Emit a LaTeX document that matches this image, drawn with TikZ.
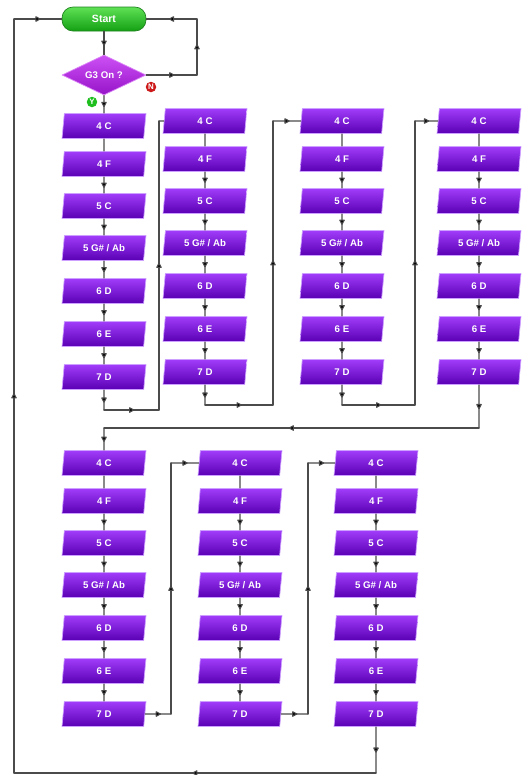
\documentclass[tikz,border=0pt]{standalone}
\usepackage{fontspec}
\setmainfont{Liberation Sans}
\usetikzlibrary{shapes.geometric,decorations.markings}
\definecolor{notetop}{RGB}{160,60,250}
\definecolor{notebot}{RGB}{90,0,180}
\definecolor{noteedge}{RGB}{205,160,255}
\definecolor{starttop}{RGB}{95,225,85}
\definecolor{startbot}{RGB}{20,160,20}
\definecolor{startedge}{RGB}{30,130,30}
\definecolor{asktop}{RGB}{205,80,245}
\definecolor{askbot}{RGB}{150,20,200}
\definecolor{wire}{RGB}{75,75,75}
\definecolor{yesgreen}{RGB}{30,190,30}
\definecolor{nored}{RGB}{205,25,25}
\tikzset{
  notebox/.style={trapezium, trapezium left angle=71, trapezium right angle=109,
    trapezium stretches body, minimum width=1.68cm, minimum height=0.5cm,
    inner sep=0pt, top color=notetop, bottom color=notebot, draw=noteedge,
    line width=0.4pt, text=white, font=\bfseries\fontsize{5.5}{6}\selectfont},
  startbox/.style={rectangle, rounded corners=0.22cm, minimum width=1.68cm,
    minimum height=0.48cm, inner sep=0pt, top color=starttop, bottom color=startbot,
    draw=startedge, line width=0.4pt, text=white, font=\bfseries\fontsize{6}{7}\selectfont},
  askbox/.style={diamond, aspect=2.1, minimum width=1.68cm, minimum height=0.8cm,
    inner sep=0pt, top color=asktop, bottom color=askbot, draw=asktop!70!white,
    line width=0.4pt, text=white, font=\bfseries\fontsize{5.5}{6}\selectfont},
  badge/.style={circle, inner sep=0pt, minimum size=0.21cm, text=white,
    font=\bfseries\fontsize{4.5}{5}\selectfont},
  wire/.style={draw=wire, line width=0.6pt},
  midarrow/.style={postaction={decorate}, decoration={markings,
    mark=at position 0.5 with {\fill[wire] (1.3pt,0) -- (-1.1pt,1.3pt) -- (-1.1pt,-1.3pt) -- cycle;}}}
}
\begin{document}
\begin{tikzpicture}[x=0.02cm, y=-0.02cm, line cap=round, line join=round]
  \useasboundingbox (0,0) rectangle (527,775);
  % start and test
  \node[startbox] (start) at (104,19) {Start};
  \node[askbox] (ask) at (104,75) {G3 On ?};
  \node[badge, fill=yesgreen] (yes) at (92,102) {Y};
  \node[badge, fill=nored] (no) at (151,87) {N};
  % the seven note columns
  \foreach \col/\cx/\cy in {a/104/126, b/205/121, c/342/121, d/479/121,
                            e/104/463, f/240/463, g/376/463}
    \foreach \note/\dy [count=\i] in {4 C/0, 4 F/38, 5 C/80, {5 G\# / Ab}/122,
                                      6 D/165, 6 E/208, 7 D/251}
      \node[notebox] (\col\i) at (\cx,\cy+\dy) {\note};
  \foreach \col in {a,b,c,d,e,f,g} {
    \draw[wire] (\col1) -- (\col2);
    \foreach \i [evaluate=\i as \j using int(\i+1)] in {2,...,6}
      \draw[wire, midarrow] (\col\i) -- (\col\j);
  }
  % corner points of the connectors
  \coordinate (nr) at (197,75);   \coordinate (nt) at (197,19);
  \coordinate (ab1) at (104,410); \coordinate (ab2) at (159,410); \coordinate (ab3) at (159,121);
  \coordinate (bc1) at (205,405); \coordinate (bc2) at (273,405); \coordinate (bc3) at (273,121);
  \coordinate (cd1) at (342,405); \coordinate (cd2) at (415,405); \coordinate (cd3) at (415,121);
  \coordinate (de1) at (479,428); \coordinate (de2) at (104,428);
  \coordinate (ef1) at (171,714); \coordinate (ef2) at (171,463);
  \coordinate (fg1) at (308,714); \coordinate (fg2) at (308,463);
  \coordinate (bk1) at (376,773); \coordinate (bk2) at (14,773); \coordinate (bk3) at (14,19);
  % connectors
  \draw[wire, midarrow] (start) -- (ask);
  \draw[wire, midarrow] (ask) -- (a1);
  \draw[wire, midarrow] (ask.east) -- (nr);
  \draw[wire, midarrow] (nr) -- (nt);
  \draw[wire, midarrow] (nt) -- (start);
  \draw[wire, midarrow] (a7) -- (ab1);
  \draw[wire, midarrow] (ab1) -- (ab2);
  \draw[wire, midarrow] (ab2) -- (ab3);
  \draw[wire] (ab3) -- (b1);
  \draw[wire, midarrow] (b7) -- (bc1);
  \draw[wire, midarrow] (bc1) -- (bc2);
  \draw[wire, midarrow] (bc2) -- (bc3);
  \draw[wire, midarrow] (bc3) -- (c1);
  \draw[wire, midarrow] (c7) -- (cd1);
  \draw[wire, midarrow] (cd1) -- (cd2);
  \draw[wire, midarrow] (cd2) -- (cd3);
  \draw[wire, midarrow] (cd3) -- (d1);
  \draw[wire, midarrow] (d7) -- (de1);
  \draw[wire, midarrow] (de1) -- (de2);
  \draw[wire, midarrow] (de2) -- (e1);
  \draw[wire, midarrow] (e7) -- (ef1);
  \draw[wire, midarrow] (ef1) -- (ef2);
  \draw[wire, midarrow] (ef2) -- (f1);
  \draw[wire, midarrow] (f7) -- (fg1);
  \draw[wire, midarrow] (fg1) -- (fg2);
  \draw[wire, midarrow] (fg2) -- (g1);
  \draw[wire, midarrow] (g7) -- (bk1);
  \draw[wire, midarrow] (bk1) -- (bk2);
  \draw[wire, midarrow] (bk2) -- (bk3);
  \draw[wire, midarrow] (bk3) -- (start);
\end{tikzpicture}
\end{document}
